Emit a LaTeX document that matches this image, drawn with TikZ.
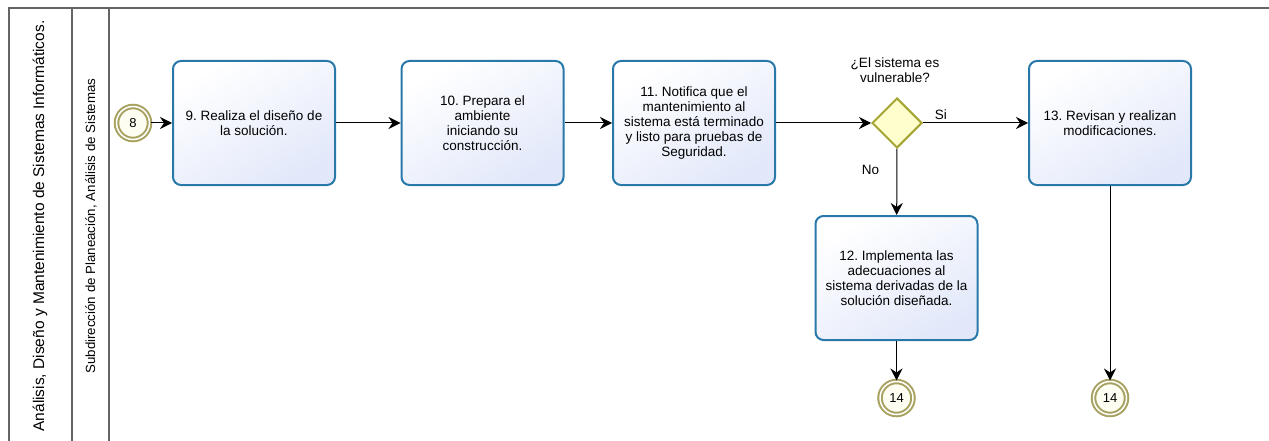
\documentclass[tikz,border=0pt]{standalone}
\usepackage{fontspec}
\setmainfont{Liberation Sans}
\usetikzlibrary{arrows.meta,shapes.geometric}
\frenchspacing
\definecolor{taskline}{RGB}{40,120,170}
\definecolor{taskfill}{RGB}{226,232,250}
\definecolor{eventline}{RGB}{168,162,96}
\definecolor{eventfill}{RGB}{253,253,242}
\definecolor{gateline}{RGB}{164,164,50}
\definecolor{gatefill}{RGB}{255,255,206}
\definecolor{poolline}{RGB}{100,100,100}
\tikzstyle{task}=[draw=taskline,line width=2pt,rounded corners=8pt,top color=white,bottom color=taskfill,shading angle=30,minimum width=162pt,minimum height=124pt,align=center,inner sep=2pt,font=\fontsize{13.5}{15}\selectfont]
\tikzstyle{event}=[circle,draw=eventline,double=white,double distance=1.5pt,line width=2pt,fill=eventfill,minimum size=33pt,inner sep=0pt,font=\fontsize{13}{14}\selectfont]
\tikzstyle{gate}=[diamond,draw=gateline,line width=2pt,fill=gatefill,minimum width=50pt,minimum height=50pt,inner sep=0pt]
\tikzstyle{lane}=[draw=poolline,line width=1.2pt]
\tikzstyle{flow}=[->,line width=1pt,black]
\tikzstyle{lbl}=[font=\fontsize{13.5}{15}\selectfont,align=center]

\begin{document}
\begin{tikzpicture}[x=1pt,y=-1pt,>={Stealth[length=12pt,width=12pt,inset=4pt]}]
  \useasboundingbox (0,0) rectangle (1269,441);
  % pool and lane
  \draw[lane] (1269,8) -- (9,8) -- (9,441);
  \draw[lane] (72,8) -- (72,441);
  \draw[lane] (109,8) -- (109,441);
  \node[rotate=90,font=\fontsize{15.5}{17}\selectfont] (pooltitle) at (40,226) {Análisis, Diseño y Mantenimiento de Sistemas Informáticos.};
  \node[rotate=90,font=\fontsize{13.3}{15}\selectfont] (lanetitle) at (91,226) {Subdirección de Planeación, Análisis de Sistemas};
  % tasks and events
  \node[event] (E8)   at (133,123)   {8};
  \node[task]  (T9)   at (254,123)   {9. Realiza el diseño de\\la solución.};
  \node[task]  (T10)  at (482.5,123) {10. Prepara el\\ambiente\\iniciando su\\construcción.};
  \node[task]  (T11)  at (694,123)   {11. Notifica que el\\mantenimiento al\\sistema está terminado\\y listo para pruebas de\\Seguridad.};
  \node[gate]  (G)    at (897,123)   {};
  \node[lbl]   (Q)    at (895,70)    {¿El sistema es\\vulnerable?};
  \node[task]  (T13)  at (1110,123)  {13. Revisan y realizan\\modificaciones.};
  \node[task]  (T12)  at (896.5,278) {12. Implementa las\\adecuaciones al\\sistema derivadas de la\\solución diseñada.};
  \node[event] (E14a) at (896.5,398) {14};
  \node[event] (E14b) at (1110,398)  {14};
  % flows
  \draw[flow] (E8) -- (T9);
  \draw[flow] (T9) -- (T10);
  \draw[flow] (T10) -- (T11);
  \draw[flow] (T11) -- (G);
  \draw[flow] (G) -- node[lbl,pos=0.17,above=0pt] {Si} (T13);
  \draw[flow] (G) -- node[lbl,pos=0.32,left=14pt] {No} (T12);
  \draw[flow] (T12) -- (E14a);
  \draw[flow] (T13) -- (E14b);
\end{tikzpicture}
\end{document}
